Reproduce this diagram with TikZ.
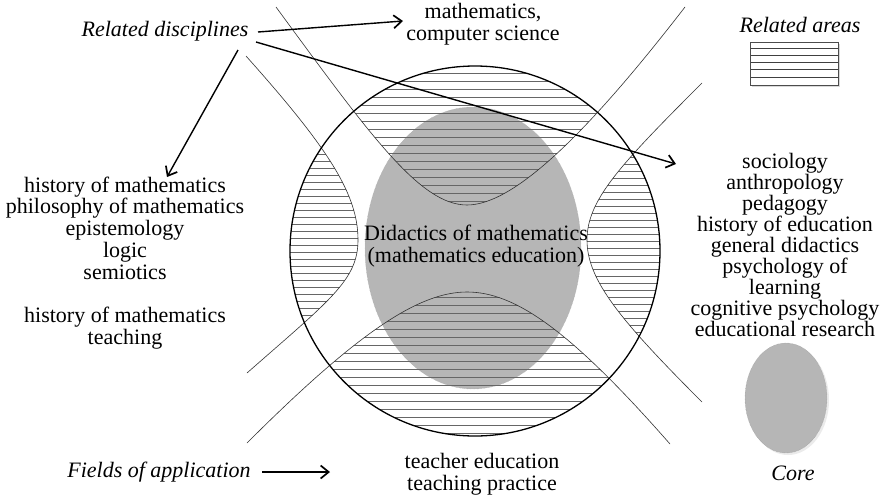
\documentclass[tikz,border=0pt]{standalone}
\usepackage{fontspec}
\setmainfont{Liberation Serif}
\usetikzlibrary{arrows.meta}
\definecolor{coregray}{HTML}{B6B6B6}
\begin{document}
\begin{tikzpicture}[x=1pt,y=-1pt,
  txt/.style={font=\fontsize{22}{21.8}\selectfont, align=center, inner sep=0pt},
  itxt/.style={font=\fontsize{22}{21.8}\selectfont\itshape, align=center, inner sep=0pt},
  arr/.style={line width=1.4pt, -{Straight Barb[length=8pt,width=13pt,line width=1.7pt]}},
  curveline/.style={line width=0.6pt, black!80},
  hatch/.style={line width=0.55pt, black!60},
  bigcircle/.style={line width=1.3pt, black},
]
\useasboundingbox (0,0) rectangle (881,496);
\fill[white] (0,0) rectangle (881,496);

% core (gray ellipse)
\fill[coregray] (473,248) ellipse[x radius=108, y radius=141];
\draw[black!35, line width=0.4pt, densely dotted] (473,248) ellipse[x radius=108, y radius=141];

% hatching: top lens
\begin{scope}
  \clip (475,251) circle[radius=185];
  \clip (276,7) .. controls (370,135) and (420,205) .. (467,205) .. controls (515,205) and (590,130) .. (685,7) -- (720,-40) -- (240,-40) -- cycle;
  \foreach \y in {73,81,...,210} \draw[hatch] (250,\y) -- (720,\y);
\end{scope}
% hatching: bottom lens
\begin{scope}
  \clip (475,251) circle[radius=185];
  \clip (247,443) .. controls (360,330) and (420,292) .. (467,292) .. controls (515,292) and (570,330) .. (670,444) -- (700,520) -- (220,520) -- cycle;
  \foreach \y in {297,305,...,440} \draw[hatch] (250,\y) -- (720,\y);
\end{scope}
% hatching: left lens
\begin{scope}
  \clip (475,251) circle[radius=185];
  \clip (246,56) .. controls (330,150) and (358,195) .. (358,240) .. controls (358,280) and (330,300) .. (247,373) -- (200,373) -- (200,56) -- cycle;
  \foreach \y in {140,147,...,330} \draw[hatch] (250,\y) -- (400,\y);
\end{scope}
% hatching: right lens
\begin{scope}
  \clip (475,251) circle[radius=185];
  \clip (702,83) .. controls (620,165) and (587,200) .. (587,240) .. controls (587,280) and (620,320) .. (702,402) -- (760,402) -- (760,83) -- cycle;
  \foreach \y in {150,157,...,350} \draw[hatch] (560,\y) -- (720,\y);
\end{scope}

% the four curves
\draw[curveline] (276,7) .. controls (370,135) and (420,205) .. (467,205) .. controls (515,205) and (590,130) .. (685,7);
\draw[curveline] (247,443) .. controls (360,330) and (420,292) .. (467,292) .. controls (515,292) and (570,330) .. (670,444);
\draw[curveline] (246,56) .. controls (330,150) and (358,195) .. (358,240) .. controls (358,280) and (330,300) .. (247,373);
\draw[curveline] (702,83) .. controls (620,165) and (587,200) .. (587,240) .. controls (587,280) and (620,320) .. (702,402);

% big circle
\draw[bigcircle] (475,251) circle[radius=185];

% legend: related areas
\fill[black!15] (752,44) rectangle (840,87);
\fill[white] (750,42) rectangle (838,85);
\foreach \y in {48,55,62,69,77} \draw[line width=0.8pt, black!75] (750,\y) -- (839,\y);
\draw[line width=0.5pt, black!70] (750,42) rectangle (838,85);

% legend: core
\fill[black!8] (788,400) ellipse[x radius=41, y radius=55];
\fill[coregray] (786,398) ellipse[x radius=41, y radius=55];
\draw[black!40, line width=0.4pt, densely dotted] (786,398) ellipse[x radius=41, y radius=55];

% texts
\node[itxt] (rd) at (165,31) {Related disciplines};
\node[txt] (mcs) at (483,24) {mathematics,\\computer science};
\node[itxt] (ra) at (800,25) {Related areas};
\node[txt] (hist) at (125,263) {history of mathematics\\philosophy of mathematics\\epistemology\\logic\\semiotics\\[21.8pt]history of mathematics\\teaching};
\node[txt, font=\fontsize{22}{20.9}\selectfont] (soc) at (785,245) {sociology\\anthropology\\pedagogy\\history of education\\general didactics\\psychology of\\learning\\cognitive psychology\\educational research};
\node[txt] (did) at (476,246) {Didactics of mathematics\\(mathematics education)};
\node[itxt] (foa) at (159,472) {Fields of application};
\node[txt] (tep) at (482,474) {teacher education\\teaching practice};
\node[itxt] (core) at (793,473) {Core};

% arrows
\coordinate (a1s) at (258,32);
\coordinate (a1e) at (403,21);
\coordinate (a2s) at (256,42);
\coordinate (a2e) at (676,164);
\coordinate (a3s) at (238,50);
\coordinate (a3e) at (167,177);
\coordinate (a4s) at (262,472);
\coordinate (a4e) at (330,472);
\draw[arr] (a1s) -- (a1e);
\draw[arr] (a2s) -- (a2e);
\draw[arr] (a3s) -- (a3e);
\draw[arr] (a4s) -- (a4e);
\end{tikzpicture}
\end{document}
